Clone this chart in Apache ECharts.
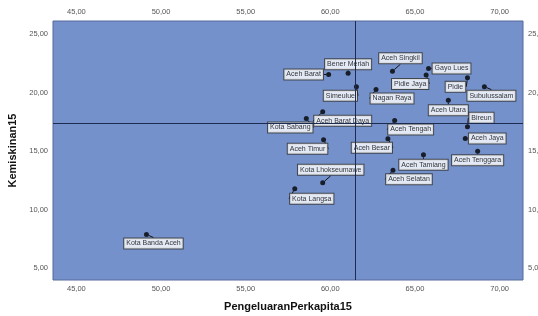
<!DOCTYPE html>
<html>
<head>
<meta charset="utf-8">
<script src="https://cdn.jsdelivr.net/npm/echarts@6/dist/echarts.min.js"></script>
<style>
  html, body { margin: 0; padding: 0; background: #fff; }
  #chart { width: 538px; height: 316px; }
</style>
</head>
<body>
<div id="chart"></div>
<script>
// kabupaten/kota Aceh, 2015
var names = [
    'Aceh Barat', 'Bener Meriah', 'Simeulue', 'Aceh Singkil', 'Gayo Lues', 'Pidie Jaya',
    'Pidie', 'Subulussalam', 'Nagan Raya', 'Aceh Utara', 'Bireun', 'Aceh Barat Daya',
    'Kota Sabang', 'Aceh Tengah', 'Aceh Jaya', 'Aceh Timur', 'Aceh Besar', 'Aceh Tamiang',
    'Aceh Tenggara', 'Aceh Selatan', 'Kota Lhokseumawe', 'Kota Langsa', 'Kota Banda Aceh'
];
var pengeluaran = [
    59.90, 61.05, 61.54, 63.67, 65.80, 65.66,
    68.10, 69.10, 62.70, 66.97, 68.10, 59.55,
    58.58, 63.80, 67.97, 59.60, 63.40, 65.50,
    68.70, 63.70, 59.55, 57.90, 49.14
];
var kemiskinan = [
    21.54, 21.65, 20.50, 21.82, 22.05, 21.50,
    21.25, 20.50, 20.26, 19.34, 17.07, 18.35,
    17.78, 17.60, 16.07, 15.96, 16.04, 14.67,
    14.98, 13.36, 12.28, 11.77, 7.86
];
var meanPengeluaran = 61.48;
var meanKemiskinan = 17.38;

// where each label box sits relative to its point (px)
var labelOffsets = [
    [-25, 0], [0, -9], [-16, 9], [8, -13], [23, 0], [-16, 9],
    [-12, 9], [7, 9], [16, 9], [0, 10], [14, -9], [20, 9],
    [-16, 9], [16, 9], [22, 0], [-16, 9], [-16, 9], [0, 10],
    [0, 9], [16, 9], [8, -13], [17, 10], [7, 9]
];

var points = names.map(function (n, i) {
    return { name: n, value: [pengeluaran[i], kemiskinan[i]] };
});

var fmt = function (v) { return v.toFixed(2).replace('.', ','); };

var xRange = { min: 43.62, max: 71.38 };
var yRange = { min: 3.97, max: 26.11 };

var tickLabel = {
    formatter: fmt,
    fontSize: 7.5,
    color: '#555',
    fontFamily: 'Liberation Sans',
    margin: 5,
    showMinLabel: false,
    showMaxLabel: false
};

var baseAxis = {
    type: 'value',
    axisLine: { show: false },
    axisTick: { show: false },
    splitLine: { show: false },
    axisLabel: tickLabel
};

var option = {
    backgroundColor: '#fff',
    animation: false,
    grid: {
        left: 53, right: 15, top: 21, bottom: 36,
        outerBoundsMode: 'none',
        containLabel: false,
        show: true,
        backgroundColor: '#7491CB',
        borderColor: '#55699a',
        borderWidth: 1
    },
    xAxis: [
        Object.assign({}, baseAxis, xRange, {
            position: 'bottom',
            name: 'PengeluaranPerkapita15',
            nameLocation: 'middle',
            nameGap: 21,
            nameTextStyle: { fontSize: 11, fontWeight: 'bold', color: '#111', fontFamily: 'Liberation Sans' }
        }),
        Object.assign({}, baseAxis, xRange, { position: 'top' })
    ],
    yAxis: [
        Object.assign({}, baseAxis, yRange, {
            position: 'left',
            name: 'Kemiskinan15',
            nameLocation: 'middle',
            nameRotate: 90,
            nameGap: 31,
            nameTextStyle: { fontSize: 11, fontWeight: 'bold', color: '#111', fontFamily: 'Liberation Sans' }
        }),
        Object.assign({}, baseAxis, yRange, { position: 'right' })
    ],
    series: [
        {
            type: 'scatter',
            xAxisIndex: 0,
            yAxisIndex: 0,
            symbolSize: 5,
            itemStyle: { color: '#000' },
            data: points,
            label: {
                show: true,
                position: 'inside',
                formatter: '{b}',
                fontSize: 7,
                lineHeight: 8,
                color: '#000',
                fontFamily: 'Liberation Sans',
                backgroundColor: '#fff',
                borderColor: '#333',
                borderWidth: 1,
                padding: [1, 2]
            },
            labelLine: {
                show: true,
                lineStyle: { color: '#111', width: 1 }
            },
            labelLayout: function (p) {
                var o = labelOffsets[p.dataIndex];
                return { dx: o[0], dy: o[1] };
            },
            markLine: {
                silent: true,
                symbol: 'none',
                label: { show: false },
                lineStyle: { color: '#1c2b4f', type: 'solid', width: 1 },
                data: [{ xAxis: meanPengeluaran }, { yAxis: meanKemiskinan }]
            }
        }
    ]
};

var myChart = echarts.init(document.getElementById('chart'));
myChart.setOption(option);
</script>
</body>
</html>
